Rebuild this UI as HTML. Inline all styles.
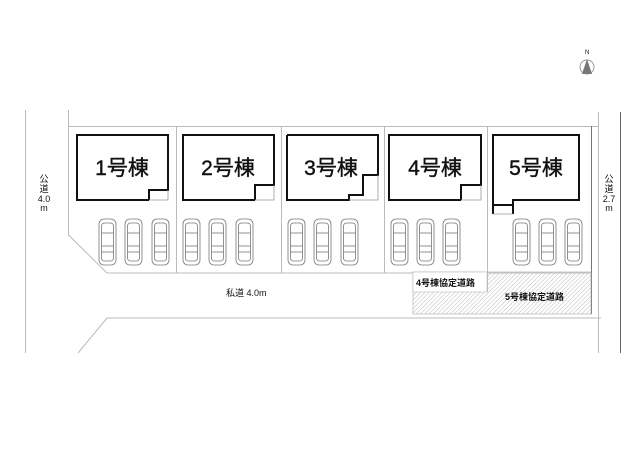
<!DOCTYPE html>
<html><head><meta charset="utf-8"><style>
html,body{margin:0;padding:0;background:#fff;}
svg{display:block;}
text{font-family:"Liberation Sans","Noto Sans CJK JP",sans-serif;fill:#111;}
</style></head><body>
<svg width="640" height="452" viewBox="0 0 640 452" xmlns="http://www.w3.org/2000/svg">
<defs>
<pattern id="h" width="3" height="3" patternUnits="userSpaceOnUse" patternTransform="rotate(45)">
<line x1="0" y1="0" x2="0" y2="3" stroke="#bbb" stroke-width="1"/>
</pattern>
<g id="car" fill="none" stroke="#777" stroke-width="0.8">
<rect x="0" y="0" width="17" height="46" rx="5"/>
<rect x="2.5" y="4" width="12" height="38" rx="3"/>
<line x1="2.5" y1="14" x2="14.5" y2="14"/>
<line x1="2.5" y1="33" x2="14.5" y2="33"/>
<line x1="2.5" y1="27" x2="14.5" y2="27"/>
</g>
</defs>
<text x="585" y="54" font-size="6">N</text>
<circle cx="587" cy="67" r="7" fill="none" stroke="#999"/>
<polygon points="587,59 582,74 592,74" fill="#777"/>
<g stroke="#bbb" fill="none" stroke-width="1">
<line x1="25.5" y1="110" x2="25.5" y2="353"/>
<polyline points="68.5,110 68.5,235 107,273 591,273"/>
<line x1="68" y1="126.5" x2="598" y2="126.5"/>
<line x1="176.5" y1="126" x2="176.5" y2="273"/>
<line x1="281.5" y1="126" x2="281.5" y2="273"/>
<line x1="384.5" y1="126" x2="384.5" y2="273"/>
<line x1="487.5" y1="126" x2="487.5" y2="292"/>
<line x1="598.5" y1="112" x2="598.5" y2="353"/>
<polyline points="78,353 107,318 601,318"/>
</g>
<line x1="620.5" y1="112" x2="620.5" y2="353" stroke="#666"/>
<line x1="591.5" y1="126" x2="591.5" y2="314" stroke="#777"/>
<rect x="413" y="272" width="178" height="42" fill="url(#h)" stroke="#aaa" stroke-width="0.6"/>
<rect x="413" y="272" width="74" height="20" fill="#fff" stroke="#bbb" stroke-width="0.6"/>
<text x="416" y="286" font-size="9" font-weight="bold">4号棟協定道路</text>
<text x="505" y="300" font-size="9" font-weight="bold">5号棟協定道路</text>
<text x="226" y="296" font-size="9">私道 4.0m</text>
<g font-size="9" text-anchor="middle">
<text x="44" y="182">公</text><text x="44" y="192">道</text><text x="44" y="202">4.0</text><text x="44" y="211">m</text>
<text x="609" y="182">公</text><text x="609" y="192">道</text><text x="609" y="202">2.7</text><text x="609" y="211">m</text>
</g>
<g fill="none" stroke="#111" stroke-width="2">
<polyline points="149,200 77,200 77,135 168,135 168,190 149,190 149,200"/>
<polyline points="255,200 183,200 183,135 274,135 274,185 255,185 255,200"/>
<polyline points="287,135 378,135 378,175 363,175 363,195 349,195 349,200 287,200 287,135"/>
<polyline points="461,200 389,200 389,135 481,135 481,185 461,185 461,200"/>
<polyline points="513,214 513,200 579,200 579,135 493,135 493,214"/>
</g>
<g fill="none" stroke="#999" stroke-width="0.8">
<polyline points="149,200 168,200 168,190"/>
<polyline points="255,200 274,200 274,185"/>
<polyline points="349,200 378,200 378,175"/>
<polyline points="461,200 481,200 481,185"/>
</g>
<line x1="493" y1="205" x2="513" y2="205" stroke="#111" stroke-width="2"/>
<line x1="493" y1="214" x2="513" y2="214" stroke="#999" stroke-width="0.8"/>
<g font-size="21" text-anchor="middle" stroke="#111" stroke-width="0.4">
<text x="122" y="175">1号棟</text>
<text x="228" y="175">2号棟</text>
<text x="331" y="175">3号棟</text>
<text x="435" y="175">4号棟</text>
<text x="536" y="175">5号棟</text>
</g>
<use href="#car" x="99" y="219"/><use href="#car" x="125" y="219"/><use href="#car" x="152" y="219"/>
<use href="#car" x="183" y="219"/><use href="#car" x="209" y="219"/><use href="#car" x="236" y="219"/>
<use href="#car" x="288" y="219"/><use href="#car" x="314" y="219"/><use href="#car" x="341" y="219"/>
<use href="#car" x="391" y="219"/><use href="#car" x="417" y="219"/><use href="#car" x="443" y="219"/>
<use href="#car" x="513" y="219"/><use href="#car" x="539" y="219"/><use href="#car" x="565" y="219"/>
</svg>
</body></html>
